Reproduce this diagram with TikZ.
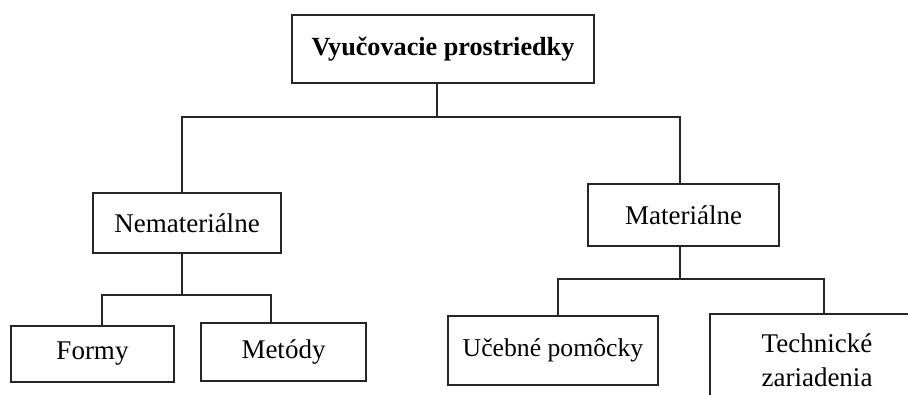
\documentclass[tikz,border=0pt]{standalone}
\usepackage{fontspec}
\setmainfont{Liberation Serif}
\begin{document}
\begin{tikzpicture}[x=1pt,y=-1pt,
  box/.style={draw=black!85, line width=1.5pt, fill=white, inner sep=0pt, font=\fontsize{27}{34}\selectfont, align=center},
  conn/.style={draw=black!85, line width=1.5pt}]
\useasboundingbox (0,0) rectangle (908,394);
\clip (0,0) rectangle (908,394);
\node[box, minimum width=302pt, minimum height=68pt, font=\fontsize{26.2}{34}\selectfont\bfseries] (top) at (443,49) {Vyučovacie prostriedky};
\node[box, minimum width=188pt, minimum height=60pt] (nem) at (187,223) {Nemateriálne};
\node[box, minimum width=191pt, minimum height=62pt] (mat) at (683.5,215) {Materiálne};
\node[box, minimum width=163pt, minimum height=56pt] (formy) at (92.5,354) {Formy};
\node[box, minimum width=165pt, minimum height=58pt] (metody) at (283.5,352) {Metódy};
\node[box, minimum width=210pt, minimum height=69pt, font=\fontsize{25.7}{34}\selectfont] (ucebne) at (553,350.5) {Učebné pomôcky};
\node[box, minimum width=214pt, minimum height=92pt] (tech) at (817,360) {Technické\\zariadenia};
\coordinate (j0) at (437,117);
\coordinate (jl) at (182,117);
\coordinate (jr) at (680,117);
\coordinate (n0) at (182,295);
\coordinate (nl) at (102,295);
\coordinate (nr) at (271,295);
\coordinate (m0) at (680,279);
\coordinate (ml) at (558,279);
\coordinate (mr) at (824,279);
\draw[conn] (top.south -| j0) -- (j0);
\draw[conn] (nem.north -| jl) -- (jl) -- (jr) -- (mat.north -| jr);
\draw[conn] (nem.south -| n0) -- (n0);
\draw[conn] (formy.north -| nl) -- (nl) -- (nr) -- (metody.north -| nr);
\draw[conn] (mat.south -| m0) -- (m0);
\draw[conn] (ucebne.north -| ml) -- (ml) -- (mr) -- (tech.north -| mr);
\end{tikzpicture}
\end{document}
